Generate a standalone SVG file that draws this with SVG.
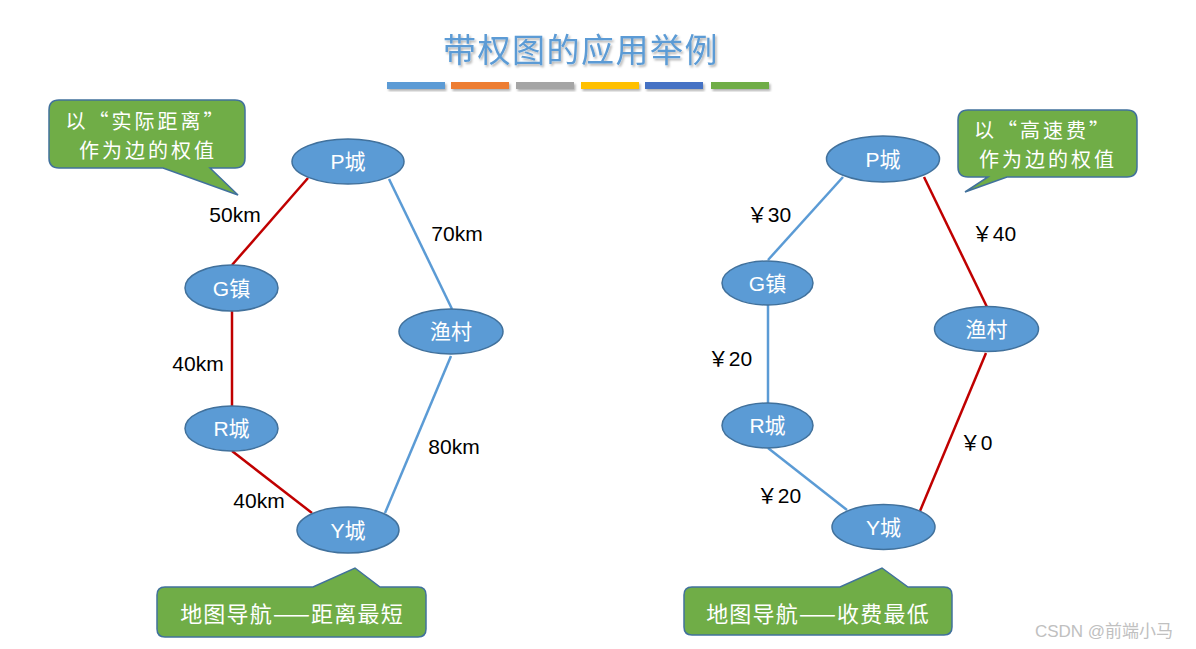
<svg xmlns="http://www.w3.org/2000/svg" width="1196" height="649" viewBox="0 0 1196 649">
<defs>
<filter id="sh" x="-10%" y="-10%" width="130%" height="140%"><feDropShadow dx="1.5" dy="2" stdDeviation="1.2" flood-color="#000" flood-opacity="0.3"/></filter>
<style>
.node{fill:#5b9bd5;stroke:#41719c;stroke-width:1.5}
.nt{fill:#fff;font-family:"Liberation Sans","Noto Sans CJK SC",sans-serif;font-size:21px;text-anchor:middle}
.red{stroke:#c00000;stroke-width:2.5;fill:none}
.blue{stroke:#5b9bd5;stroke-width:2.5;fill:none}
.lbl{fill:#000;font-family:"Liberation Sans","Noto Sans CJK SC",sans-serif;font-size:21px;text-anchor:middle}
.call{fill:#70ad47;stroke:#41719c;stroke-width:1.5}
.ct{fill:#fff;font-family:"Noto Sans CJK SC",sans-serif;font-size:20px;letter-spacing:3px;text-anchor:middle}
.cb{fill:#fff;font-family:"Noto Sans CJK SC",sans-serif;font-size:22px;letter-spacing:1.2px;text-anchor:middle}
.bar{filter:url(#sh)}
</style>
</defs>
<rect width="1196" height="649" fill="#fff"/>
<text x="581" y="62" font-family="Noto Sans CJK SC,sans-serif" font-size="33" letter-spacing="1.5" fill="#5b9bd5" text-anchor="middle" filter="url(#sh)">带权图的应用举例</text>
<g class="bar">
<rect x="387" y="82" width="58" height="7" fill="#5b9bd5"/>
<rect x="451" y="82" width="58" height="7" fill="#ed7d31"/>
<rect x="516" y="82" width="58" height="7" fill="#a5a5a5"/>
<rect x="581" y="82" width="58" height="7" fill="#ffc000"/>
<rect x="645" y="82" width="58" height="7" fill="#4472c4"/>
<rect x="711" y="82" width="58" height="7" fill="#70ad47"/>
</g>
<g id="connectors">
<line class="red" x1="308" y1="178" x2="232" y2="265"/>
<line class="red" x1="232" y1="311" x2="232" y2="406"/>
<line class="red" x1="232" y1="451" x2="312" y2="513"/>
<line class="blue" x1="389" y1="179" x2="452" y2="309"/>
<line class="blue" x1="451" y1="356" x2="385" y2="513"/>
<line class="blue" x1="843" y1="177" x2="768" y2="260"/>
<line class="blue" x1="768" y1="305" x2="768" y2="403"/>
<line class="blue" x1="768" y1="448" x2="847" y2="510"/>
<line class="red" x1="924" y1="177" x2="987" y2="307"/>
<line class="red" x1="986" y1="353" x2="920" y2="511"/>
<text class="lbl" x="235" y="222">50km</text>
<text class="lbl" x="457" y="241">70km</text>
<text class="lbl" x="198" y="371">40km</text>
<text class="lbl" x="454" y="454">80km</text>
<text class="lbl" x="259" y="508">40km</text>
<text class="lbl" x="769" y="222">￥30</text>
<text class="lbl" x="994" y="241">￥40</text>
<text class="lbl" x="730" y="366">￥20</text>
<text class="lbl" x="976" y="450">￥0</text>
<text class="lbl" x="779" y="503">￥20</text>
</g>
<g id="L-P"><ellipse class="node" cx="348" cy="161.5" rx="56" ry="22.5"/><text class="nt" x="348" y="169">P城</text></g>
<g id="L-G"><ellipse class="node" cx="231.5" cy="288" rx="46.5" ry="23"/><text class="nt" x="231.5" y="296">G镇</text></g>
<g id="L-Yu"><ellipse class="node" cx="451" cy="331.5" rx="52" ry="22.5"/><text class="nt" x="451" y="339">渔村</text></g>
<g id="L-R"><ellipse class="node" cx="231.5" cy="428.5" rx="46.5" ry="22.5"/><text class="nt" x="231.5" y="436">R城</text></g>
<g id="L-Y"><ellipse class="node" cx="348" cy="530" rx="51" ry="23"/><text class="nt" x="348" y="538">Y城</text></g>
<g id="R-P"><ellipse class="node" cx="883" cy="159" rx="56.5" ry="23"/><text class="nt" x="883" y="167">P城</text></g>
<g id="R-G"><ellipse class="node" cx="767.5" cy="283" rx="45.5" ry="22"/><text class="nt" x="767.5" y="291">G镇</text></g>
<g id="R-Yu"><ellipse class="node" cx="986.5" cy="329" rx="52" ry="22.5"/><text class="nt" x="986.5" y="337">渔村</text></g>
<g id="R-R"><ellipse class="node" cx="767.5" cy="425.5" rx="45.5" ry="22.5"/><text class="nt" x="767.5" y="433">R城</text></g>
<g id="R-Y"><ellipse class="node" cx="883.5" cy="527" rx="51.5" ry="22.5"/><text class="nt" x="883.5" y="535">Y城</text></g>
<g id="callout-tl">
<path class="call" d="M59,100 H235 Q245,100 245,110 V158 Q245,168 235,168 H210 L238,195 L163,168 H59 Q49,168 49,158 V110 Q49,100 59,100 Z"/>
<text class="ct" x="146" y="129">以“实际距离”</text>
<text class="ct" x="148" y="158">作为边的权值</text>
</g>
<g id="callout-tr">
<path class="call" d="M968,110 H1127 Q1137,110 1137,120 V167 Q1137,177 1127,177 H1007 L965,192 L988,177 H968 Q958,177 958,167 V120 Q958,110 968,110 Z"/>
<text class="ct" x="1043" y="138">以“高速费”</text>
<text class="ct" x="1048" y="167">作为边的权值</text>
</g>
<g id="callout-bl">
<path class="call" d="M165,587 H313 L355,568 L380,587 H418 Q426,587 426,595 V629 Q426,637 418,637 H165 Q157,637 157,629 V595 Q157,587 165,587 Z"/>
<text class="cb" x="292" y="622">地图导航——距离最短</text>
</g>
<g id="callout-br">
<path class="call" d="M692,587 H840 L882,568 L908,587 H944 Q952,587 952,595 V627 Q952,635 944,635 H692 Q684,635 684,627 V595 Q684,587 692,587 Z"/>
<text class="cb" x="818" y="622">地图导航——收费最低</text>
</g>
<text x="1104" y="637" font-family="Liberation Sans,Noto Sans CJK SC,sans-serif" font-size="17" fill="#c0c0c0" text-anchor="middle">CSDN @前端小马</text>
</svg>
